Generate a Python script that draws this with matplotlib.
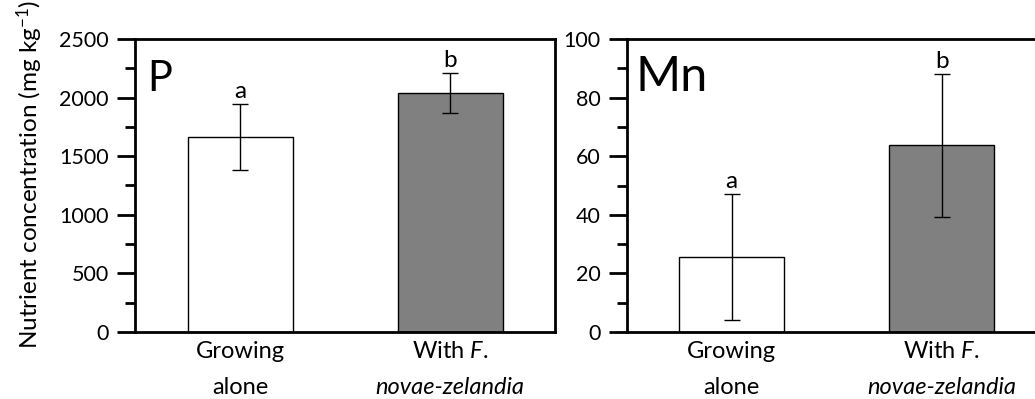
import matplotlib
matplotlib.use("Agg")
import matplotlib.pyplot as plt
from matplotlib.ticker import MultipleLocator, AutoMinorLocator

plt.rcParams['font.family'] = ['Lato', 'DejaVu Sans']
plt.rcParams['mathtext.fontset'] = 'custom'
plt.rcParams['mathtext.rm'] = 'Lato'
plt.rcParams['mathtext.it'] = 'Lato:italic'

groups = ["Growing alone", "With F. novae-zelandia"]
line1 = ["Growing", r"With $\mathit{F.}$"]
line2 = ["alone", "novae-zelandia"]
line2_style = ["normal", "italic"]

p_mean = [1665, 2040]
p_err = [283, 171]
mn_mean = [25.6, 63.8]
mn_err = [21.5, 24.4]
letters = ["a", "b"]
bar_colors = ["white", "#808080"]

panels = [
    ("P", p_mean, p_err, 2500, 500),
    ("Mn", mn_mean, mn_err, 100, 20),
]
label_sizes = [30, 35]

W, H = 1035, 399
fig = plt.figure(figsize=(W / 100, H / 100), dpi=100)

ax_left = [135, 626.7]
for k, (name, mean, err, ymax, step) in enumerate(panels):
    ax = fig.add_axes([ax_left[k] / W, 1 - 332 / H, 420 / W, 293 / H])
    x = list(range(len(mean)))
    ax.bar(x, mean, width=0.5, color=bar_colors, edgecolor="black", linewidth=1.0,
           yerr=err, error_kw=dict(ecolor="black", elinewidth=1.0, capsize=5.5, capthick=1.0))
    ax.set_xlim(-0.5, 1.5)
    ax.set_ylim(0, ymax)
    ax.yaxis.set_major_locator(MultipleLocator(step))
    ax.yaxis.set_minor_locator(AutoMinorLocator(2))
    ax.tick_params(axis="y", which="major", direction="out", length=13, width=2,
                   labelsize=15.5, pad=6)
    ax.tick_params(axis="y", which="minor", direction="out", length=7, width=2)
    ax.tick_params(axis="x", length=0, labelbottom=False)
    for s in ax.spines.values():
        s.set_linewidth(2)

    for i in x:
        ax.annotate(letters[i], xy=(i, mean[i] + err[i]), xytext=(0, 2),
                    textcoords="offset pixels", ha="center", va="bottom", fontsize=17.5)
        ax.annotate(line1[i], xy=(i, 0), xycoords=("data", "axes fraction"),
                    xytext=(0, -19), textcoords="offset pixels",
                    ha="center", va="center", fontsize=17)
        ax.annotate(line2[i], xy=(i, 0), xycoords=("data", "axes fraction"),
                    xytext=(0, -55), textcoords="offset pixels",
                    ha="center", va="center", fontsize=17, fontstyle=line2_style[i])

    ax.text(0.028 if k == 0 else 0.02, 0.823, name, transform=ax.transAxes,
            ha="left", va="baseline", fontsize=label_sizes[k])

fig.text(30 / W, 1 - 174 / H, "Nutrient concentration (mg kg$^{-1}$)",
         rotation=90, ha="center", va="center", fontsize=17.5)

fig.savefig("out.png", dpi=100)
